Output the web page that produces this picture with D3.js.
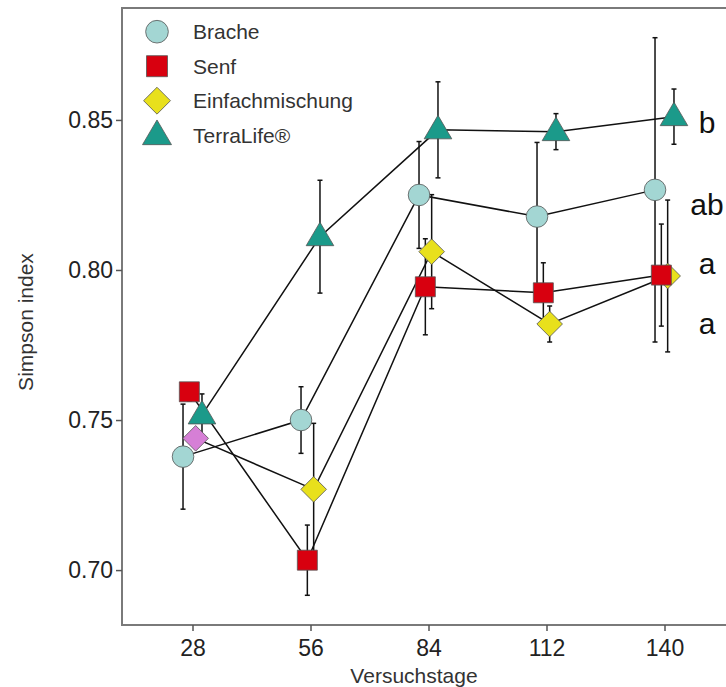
<!DOCTYPE html>
<html><head><meta charset="utf-8">
<script src="https://cdn.jsdelivr.net/npm/d3@7"></script>
<style>body{margin:0;background:#fff}svg{display:block}</style>
</head><body><svg id="c" width="726" height="687"></svg>
<script>
const days = [28, 56, 84, 112, 140];
const seriesNames = ["Brache", "Senf", "Einfachmischung", "TerraLife®"];
const brache = [0.7378, 0.7500, 0.8250, 0.8178, 0.8267];
const bracheErr = [0.0175, 0.0111, 0.0178, 0.0247, 0.0507];
const senf = [0.7594, 0.7033, 0.7944, 0.7924, 0.7983];
const senfErr = [0.003, 0.0117, 0.016, 0.010, 0.017];
const einfach = [0.7439, 0.7269, 0.8061, 0.7820, 0.7980];
const einfachErr = [0.003, 0.022, 0.019, 0.006, 0.0253];
const terra = [0.7517, 0.8111, 0.8467, 0.8461, 0.8511];
const terraErr = [0.007, 0.0188, 0.016, 0.006, 0.0092];
const letters = ["ab", "a", "a", "b"];
const letterY = [0.8217, 0.8023, 0.7823, 0.8490];
const yTicks = [0.70, 0.75, 0.80, 0.85];

const colors = ["#a3d6d3", "#d8000f", "#e8e01c", "#1b9a8a"];
const values = [brache, senf, einfach, terra];
const errs = [bracheErr, senfErr, einfachErr, terraErr];
const dodgeW = 6;
const pointOrder = [2, 0, 1, 3];

function markerPath(i, s) {
  if (i === 0) { const r = 10.8 * s; return `M${r},0A${r},${r} 0 1,1 ${-r},0A${r},${r} 0 1,1 ${r},0Z`; }
  if (i === 1) { const h = 10 * s; return `M${-h},${-h}H${h}V${h}H${-h}Z`; }
  if (i === 2) { const h = 12.8 * s; return `M0,${-h}L${h},0L0,${h}L${-h},0Z`; }
  const w = 13.8 * s, t = 14.5 * s, b = 9 * s;
  return `M0,${-t}L${w},${b}L${-w},${b}Z`;
}

const svg = d3.select("#c");
const x = d3.scaleLinear().domain([11.27, 156.73]).range([122, 735]);
const y = d3.scaleLinear().domain([0.6817, 0.8873]).range([625, 8]);
const font = "'Liberation Sans', Arial, sans-serif";

svg.append("rect").attr("x", 122).attr("y", 8).attr("width", 613).attr("height", 617)
  .attr("fill", "none").attr("stroke", "#7a7a7a").attr("stroke-width", 2);

const yAx = svg.append("g").attr("transform", "translate(122,0)")
  .call(d3.axisLeft(y).tickValues(yTicks).tickFormat(d3.format(".2f")).tickSize(6).tickPadding(3));
const xAx = svg.append("g").attr("transform", "translate(0,625)")
  .call(d3.axisBottom(x).tickValues(days).tickFormat(d3.format("d")).tickSize(6).tickPadding(9));
[yAx, xAx].forEach(g => {
  g.select(".domain").remove();
  g.selectAll("line").attr("stroke", "#555").attr("stroke-width", 1.5);
  g.selectAll("text").attr("fill", "#222").style("font-family", font).style("font-size", "23px");
});

svg.append("text").attr("x", 414).attr("y", 683).attr("text-anchor", "middle")
  .style("font-family", font).style("font-size", "21px").attr("fill", "#333").text("Versuchstage");
svg.append("text").attr("transform", "translate(33,322) rotate(-90)").attr("text-anchor", "middle")
  .style("font-family", font).style("font-size", "21px").attr("fill", "#333").text("Simpson index");

const off = i => dodgeW * (i - 1.5) / 4;

const line = d3.line().x(d => x(d[0])).y(d => y(d[1]));
values.forEach((vals, i) => {
  svg.append("path").datum(days.map((d, j) => [d + off(i), vals[j]]))
    .attr("d", line).attr("fill", "none").attr("stroke", "#111").attr("stroke-width", 1.5);
});
values.forEach((vals, i) => {
  const g = svg.append("g").attr("stroke", "#111").attr("stroke-width", 1.5);
  days.forEach((d, j) => {
    const cx = x(d + off(i)), y1 = y(vals[j] + errs[i][j]), y2 = y(vals[j] - errs[i][j]);
    g.append("line").attr("x1", cx).attr("x2", cx).attr("y1", y1).attr("y2", y2);
    g.append("line").attr("x1", cx - 2.5).attr("x2", cx + 2.5).attr("y1", y1).attr("y2", y1);
    g.append("line").attr("x1", cx - 2.5).attr("x2", cx + 2.5).attr("y1", y2).attr("y2", y2);
  });
});
pointOrder.forEach(i => {
  const vals = values[i];
  days.forEach((d, j) => {
    let fill = colors[i];
    if (i === 2 && j === 0) fill = "#d67fd6";
    svg.append("path").attr("d", markerPath(i, 1))
      .attr("transform", `translate(${x(d + off(i))},${y(vals[j])})`)
      .attr("fill", fill).attr("stroke", "#555").attr("stroke-width", 0.8);
  });
});
letters.forEach((t, i) => {
  svg.append("text").attr("x", 707).attr("y", y(letterY[i])).attr("dy", "0.35em")
    .attr("text-anchor", "middle")
    .style("font-family", font).style("font-size", "30px").attr("fill", "#111").text(t);
});
seriesNames.forEach((n, i) => {
  const ly = 31.7 + i * 34.5;
  svg.append("path").attr("d", markerPath(i, 1.05))
    .attr("transform", `translate(157,${ly})`)
    .attr("fill", colors[i]).attr("stroke", "#555").attr("stroke-width", 0.8);
  svg.append("text").attr("x", 193).attr("y", ly).attr("dy", "0.35em")
    .style("font-family", font).style("font-size", "21px").attr("fill", "#333").text(n);
});
</script></body></html>
